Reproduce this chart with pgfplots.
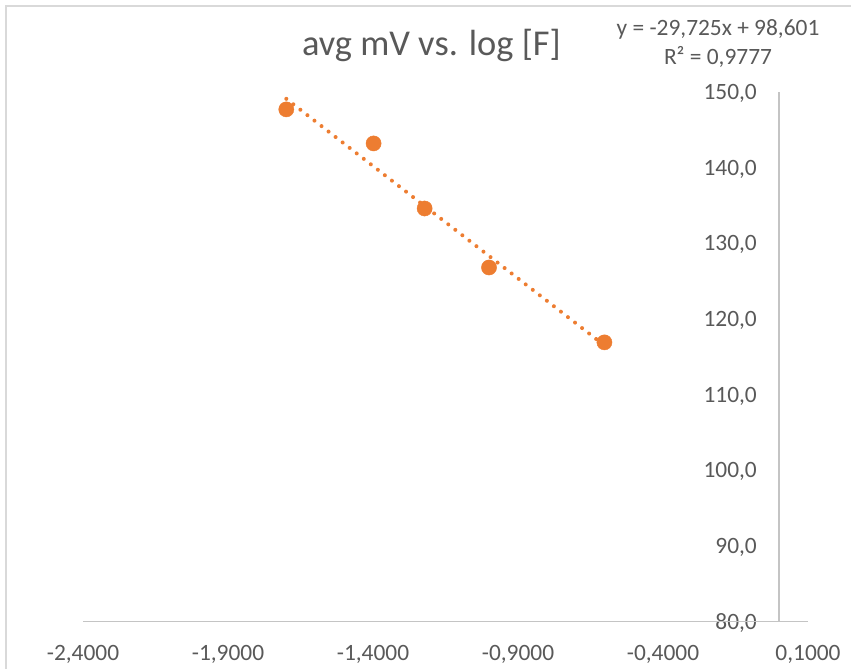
\documentclass[border=0pt]{standalone}
\usepackage{pgfplots}
\pgfplotsset{compat=1.18}
\usepackage{fontspec}
\setmainfont{Carlito}

\definecolor{txtgray}{HTML}{595959}
\definecolor{axgray}{HTML}{C4C4C4}
\definecolor{framegray}{HTML}{D9D9D9}
\definecolor{xlorange}{HTML}{ED7D31}

\newcommand{\tickfont}{\fontsize{23.4}{28}\selectfont}
\newcommand{\titlefont}{\fontsize{36.4}{42}\selectfont}

\begin{document}
\begin{tikzpicture}[x=1pt,y=1pt]
\useasboundingbox (0,0) rectangle (851,669);
% chart area frame
\draw[framegray, line width=1.5pt] (6,-20) -- (6,663) -- (870,663);

\begin{axis}[
  at={(83pt,47.5pt)}, anchor=south west,
  scale only axis, width=725pt, height=529.5pt,
  xmin=-2.4, xmax=0.1, ymin=80, ymax=150,
  xtick={-2.4,-1.9,-1.4,-0.9,-0.4,0.1},
  ytick={80,90,...,150},
  axis line style={draw=none},
  tick style={draw=none},
  clip=false,
  /pgf/number format/assume math mode=true,
  ticklabel style={font=\tickfont, text=txtgray},
  xticklabel style={anchor=base, yshift=-38.5pt,
    /pgf/number format/.cd, fixed, fixed zerofill, precision=4, use comma},
  yticklabel style={anchor=base east, inner sep=0pt, xshift=674pt, yshift=-7.7pt,
    /pgf/number format/.cd, fixed, fixed zerofill, precision=1, use comma},
]
% axis lines crossing at x = 0, y = 80
\draw[axgray, line width=1.8pt] (axis cs:-2.4,80) -- (axis cs:0.1,80);
\draw[axgray, line width=1.8pt] (axis cs:0,80) -- (axis cs:0,150);

% measured averages
\addplot[only marks, mark=*, mark size=7.6pt, xlorange,
  mark options={draw=xlorange, fill=xlorange}]
  coordinates {
    (-1.699,147.7)
    (-1.398,143.2)
    (-1.222,134.6)
    (-1.000,126.8)
    (-0.602,116.9)
  };

% linear trendline y = -29.725x + 98.601 over the data range
\addplot[xlorange, line width=4pt, line cap=round,
  dash pattern=on 0.01pt off 8.9pt, mark=none]
  coordinates {(-1.699,149.10) (-0.602,116.50)};
\end{axis}

\node[anchor=base, text=txtgray, font=\titlefont, inner sep=0pt] at (431.5,613) {avg mV vs. log [F]};
\node[anchor=base, text=txtgray, font=\tickfont, inner sep=0pt] at (718,633) {y = -29,725x + 98,601};
\node[anchor=base, text=txtgray, font=\tickfont, inner sep=0pt] at (718,604) {R² = 0,9777};
\end{tikzpicture}
\end{document}
